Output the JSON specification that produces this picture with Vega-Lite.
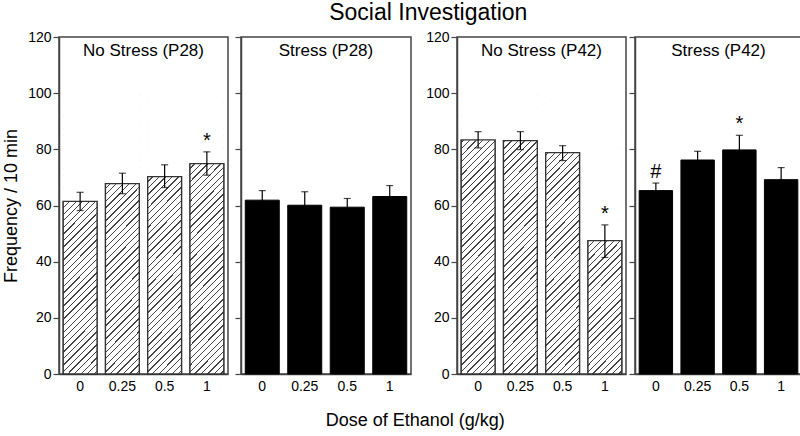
{
"$schema":"https://vega.github.io/schema/vega-lite/v6.json",
"padding":{"left":1,"top":2,"right":0,"bottom":0},
"title":{"text":"Social Investigation","fontSize":23,"fontWeight":"normal","anchor":"middle","offset":4,"dx":26},
"datasets":{
"p28ns":[
{"dose":"0","mean":61.5,"lower":58.2,"upper":64.7,"sig":""},
{"dose":"0.25","mean":67.8,"lower":64.2,"upper":71.5,"sig":""},
{"dose":"0.5","mean":70.3,"lower":66.4,"upper":74.5,"sig":""},
{"dose":"1","mean":74.9,"lower":70.8,"upper":79.1,"sig":"*"}],
"p28s":[
{"dose":"0","mean":61.9,"lower":58.5,"upper":65.3,"sig":""},
{"dose":"0.25","mean":60.1,"lower":55.3,"upper":64.9,"sig":""},
{"dose":"0.5","mean":59.4,"lower":56.3,"upper":62.5,"sig":""},
{"dose":"1","mean":63.2,"lower":59.3,"upper":67.1,"sig":""}],
"p42ns":[
{"dose":"0","mean":83.4,"lower":80.5,"upper":86.3,"sig":""},
{"dose":"0.25","mean":83.1,"lower":79.9,"upper":86.3,"sig":""},
{"dose":"0.5","mean":78.8,"lower":76.0,"upper":81.3,"sig":""},
{"dose":"1","mean":47.5,"lower":41.5,"upper":53.1,"sig":"*"}],
"p42s":[
{"dose":"0","mean":65.3,"lower":62.6,"upper":68.0,"sig":"#"},
{"dose":"0.25","mean":76.2,"lower":73.1,"upper":79.3,"sig":""},
{"dose":"0.5","mean":79.8,"lower":74.6,"upper":85.0,"sig":"*"},
{"dose":"1","mean":69.2,"lower":64.9,"upper":73.5,"sig":""}]
},
"hconcat":[
{"title":{"text":"Dose of Ethanol (g/kg)","orient":"bottom","anchor":"middle","fontSize":18,"fontWeight":"normal","offset":18,"dx":13},
"spacing":12,
"hconcat":[
{"spacing":4,"hconcat":[
{"width":169,"height":337,"data":{"name":"p28ns"},
"layer":[
{"mark":{"type":"bar","fill":"transparent","stroke":"#333","strokeWidth":1.3},
"encoding":{"x":{"field":"dose","type":"ordinal","scale":{"domain":["0","0.25","0.5","1"],"paddingInner":0.2,"paddingOuter":0.1},"axis":{"title":null,"labelAngle":0,"ticks":false,"tickSize":0,"labelPadding":5}},
"y":{"field":"mean","type":"quantitative","title":"Frequency / 10 min","scale":{"domain":[0,120],"nice":false},"axis":{"title":"Frequency / 10 min","values":[0,20,40,60,80,100,120],"tickSize":6,"labelPadding":2,"titlePadding":7,"titleFontSize":18,"titleFontWeight":"normal","titleColor":"black"}}}},
{"mark":{"type":"bar","strokeWidth":0,"fill":{"gradient":"linear","x1":0,"y1":0,"x2":0.13377,"y2":1.10488,"stops":[
{"offset":0.0083,"color":"#fff"},{"offset":0.0083,"color":"#444"},{"offset":0.0125,"color":"#444"},{"offset":0.0125,"color":"#fff"},
{"offset":0.0291,"color":"#fff"},{"offset":0.0291,"color":"#444"},{"offset":0.0333,"color":"#444"},{"offset":0.0333,"color":"#fff"},
{"offset":0.0500,"color":"#fff"},{"offset":0.0500,"color":"#444"},{"offset":0.0542,"color":"#444"},{"offset":0.0542,"color":"#fff"},
{"offset":0.0708,"color":"#fff"},{"offset":0.0708,"color":"#444"},{"offset":0.0750,"color":"#444"},{"offset":0.0750,"color":"#fff"},
{"offset":0.0916,"color":"#fff"},{"offset":0.0916,"color":"#444"},{"offset":0.0958,"color":"#444"},{"offset":0.0958,"color":"#fff"},
{"offset":0.1125,"color":"#fff"},{"offset":0.1125,"color":"#444"},{"offset":0.1167,"color":"#444"},{"offset":0.1167,"color":"#fff"},
{"offset":0.1333,"color":"#fff"},{"offset":0.1333,"color":"#444"},{"offset":0.1375,"color":"#444"},{"offset":0.1375,"color":"#fff"},
{"offset":0.1541,"color":"#fff"},{"offset":0.1541,"color":"#444"},{"offset":0.1583,"color":"#444"},{"offset":0.1583,"color":"#fff"},
{"offset":0.1750,"color":"#fff"},{"offset":0.1750,"color":"#444"},{"offset":0.1792,"color":"#444"},{"offset":0.1792,"color":"#fff"},
{"offset":0.1958,"color":"#fff"},{"offset":0.1958,"color":"#444"},{"offset":0.2000,"color":"#444"},{"offset":0.2000,"color":"#fff"},
{"offset":0.2166,"color":"#fff"},{"offset":0.2166,"color":"#444"},{"offset":0.2208,"color":"#444"},{"offset":0.2208,"color":"#fff"},
{"offset":0.2375,"color":"#fff"},{"offset":0.2375,"color":"#444"},{"offset":0.2417,"color":"#444"},{"offset":0.2417,"color":"#fff"},
{"offset":0.2583,"color":"#fff"},{"offset":0.2583,"color":"#444"},{"offset":0.2625,"color":"#444"},{"offset":0.2625,"color":"#fff"},
{"offset":0.2791,"color":"#fff"},{"offset":0.2791,"color":"#444"},{"offset":0.2833,"color":"#444"},{"offset":0.2833,"color":"#fff"},
{"offset":0.3000,"color":"#fff"},{"offset":0.3000,"color":"#444"},{"offset":0.3042,"color":"#444"},{"offset":0.3042,"color":"#fff"},
{"offset":0.3208,"color":"#fff"},{"offset":0.3208,"color":"#444"},{"offset":0.3250,"color":"#444"},{"offset":0.3250,"color":"#fff"},
{"offset":0.3416,"color":"#fff"},{"offset":0.3416,"color":"#444"},{"offset":0.3458,"color":"#444"},{"offset":0.3458,"color":"#fff"},
{"offset":0.3625,"color":"#fff"},{"offset":0.3625,"color":"#444"},{"offset":0.3667,"color":"#444"},{"offset":0.3667,"color":"#fff"},
{"offset":0.3833,"color":"#fff"},{"offset":0.3833,"color":"#444"},{"offset":0.3875,"color":"#444"},{"offset":0.3875,"color":"#fff"},
{"offset":0.4041,"color":"#fff"},{"offset":0.4041,"color":"#444"},{"offset":0.4083,"color":"#444"},{"offset":0.4083,"color":"#fff"},
{"offset":0.4250,"color":"#fff"},{"offset":0.4250,"color":"#444"},{"offset":0.4292,"color":"#444"},{"offset":0.4292,"color":"#fff"},
{"offset":0.4458,"color":"#fff"},{"offset":0.4458,"color":"#444"},{"offset":0.4500,"color":"#444"},{"offset":0.4500,"color":"#fff"},
{"offset":0.4666,"color":"#fff"},{"offset":0.4666,"color":"#444"},{"offset":0.4708,"color":"#444"},{"offset":0.4708,"color":"#fff"},
{"offset":0.4875,"color":"#fff"},{"offset":0.4875,"color":"#444"},{"offset":0.4917,"color":"#444"},{"offset":0.4917,"color":"#fff"},
{"offset":0.5083,"color":"#fff"},{"offset":0.5083,"color":"#444"},{"offset":0.5125,"color":"#444"},{"offset":0.5125,"color":"#fff"},
{"offset":0.5291,"color":"#fff"},{"offset":0.5291,"color":"#444"},{"offset":0.5333,"color":"#444"},{"offset":0.5333,"color":"#fff"},
{"offset":0.5500,"color":"#fff"},{"offset":0.5500,"color":"#444"},{"offset":0.5542,"color":"#444"},{"offset":0.5542,"color":"#fff"},
{"offset":0.5708,"color":"#fff"},{"offset":0.5708,"color":"#444"},{"offset":0.5750,"color":"#444"},{"offset":0.5750,"color":"#fff"},
{"offset":0.5916,"color":"#fff"},{"offset":0.5916,"color":"#444"},{"offset":0.5958,"color":"#444"},{"offset":0.5958,"color":"#fff"},
{"offset":0.6125,"color":"#fff"},{"offset":0.6125,"color":"#444"},{"offset":0.6167,"color":"#444"},{"offset":0.6167,"color":"#fff"},
{"offset":0.6333,"color":"#fff"},{"offset":0.6333,"color":"#444"},{"offset":0.6375,"color":"#444"},{"offset":0.6375,"color":"#fff"},
{"offset":0.6541,"color":"#fff"},{"offset":0.6541,"color":"#444"},{"offset":0.6583,"color":"#444"},{"offset":0.6583,"color":"#fff"},
{"offset":0.6750,"color":"#fff"},{"offset":0.6750,"color":"#444"},{"offset":0.6792,"color":"#444"},{"offset":0.6792,"color":"#fff"},
{"offset":0.6958,"color":"#fff"},{"offset":0.6958,"color":"#444"},{"offset":0.7000,"color":"#444"},{"offset":0.7000,"color":"#fff"},
{"offset":0.7166,"color":"#fff"},{"offset":0.7166,"color":"#444"},{"offset":0.7208,"color":"#444"},{"offset":0.7208,"color":"#fff"},
{"offset":0.7375,"color":"#fff"},{"offset":0.7375,"color":"#444"},{"offset":0.7417,"color":"#444"},{"offset":0.7417,"color":"#fff"},
{"offset":0.7583,"color":"#fff"},{"offset":0.7583,"color":"#444"},{"offset":0.7625,"color":"#444"},{"offset":0.7625,"color":"#fff"},
{"offset":0.7791,"color":"#fff"},{"offset":0.7791,"color":"#444"},{"offset":0.7833,"color":"#444"},{"offset":0.7833,"color":"#fff"},
{"offset":0.8000,"color":"#fff"},{"offset":0.8000,"color":"#444"},{"offset":0.8042,"color":"#444"},{"offset":0.8042,"color":"#fff"},
{"offset":0.8208,"color":"#fff"},{"offset":0.8208,"color":"#444"},{"offset":0.8250,"color":"#444"},{"offset":0.8250,"color":"#fff"},
{"offset":0.8416,"color":"#fff"},{"offset":0.8416,"color":"#444"},{"offset":0.8458,"color":"#444"},{"offset":0.8458,"color":"#fff"},
{"offset":0.8625,"color":"#fff"},{"offset":0.8625,"color":"#444"},{"offset":0.8667,"color":"#444"},{"offset":0.8667,"color":"#fff"},
{"offset":0.8833,"color":"#fff"},{"offset":0.8833,"color":"#444"},{"offset":0.8875,"color":"#444"},{"offset":0.8875,"color":"#fff"},
{"offset":0.9041,"color":"#fff"},{"offset":0.9041,"color":"#444"},{"offset":0.9083,"color":"#444"},{"offset":0.9083,"color":"#fff"},
{"offset":0.9250,"color":"#fff"},{"offset":0.9250,"color":"#444"},{"offset":0.9292,"color":"#444"},{"offset":0.9292,"color":"#fff"},
{"offset":0.9458,"color":"#fff"},{"offset":0.9458,"color":"#444"},{"offset":0.9500,"color":"#444"},{"offset":0.9500,"color":"#fff"},
{"offset":0.9666,"color":"#fff"},{"offset":0.9666,"color":"#444"},{"offset":0.9708,"color":"#444"},{"offset":0.9708,"color":"#fff"},
{"offset":0.9875,"color":"#fff"},{"offset":0.9875,"color":"#444"},{"offset":0.9917,"color":"#444"},{"offset":0.9917,"color":"#fff"}
]}},
"encoding":{"x":{"field":"dose","type":"ordinal"},
"y":{"datum":100,"type":"quantitative","title":"Frequency / 10 min"},"y2":{"datum":0}}},
{"mark":{"type":"bar","fill":"white","stroke":"white","strokeWidth":1},
"encoding":{"x":{"field":"dose","type":"ordinal"},
"y":{"field":"mean","type":"quantitative","title":"Frequency / 10 min"},"y2":{"datum":102}}},
{"mark":{"type":"bar","fill":"transparent","stroke":"#333","strokeWidth":1.3},
"encoding":{"x":{"field":"dose","type":"ordinal"},
"y":{"field":"mean","type":"quantitative","title":"Frequency / 10 min"}}},
{"mark":{"type":"errorbar","ticks":true,"size":7,"thickness":1.2,"color":"black"},
"encoding":{"x":{"field":"dose","type":"ordinal"},
"y":{"field":"lower","type":"quantitative","title":"Frequency / 10 min"},"y2":{"field":"upper"}}},
{"mark":{"type":"text","fontSize":20,"baseline":"middle","dy":-11,"color":"black"},
"encoding":{"x":{"field":"dose","type":"ordinal"},
"y":{"field":"upper","type":"quantitative","title":"Frequency / 10 min"},"text":{"field":"sig"}}},
{"data":{"values":[{"label":"No Stress (P28)"}]},
"mark":{"type":"text","fontSize":17,"baseline":"top","dy":6,"color":"black"},
"encoding":{"x":{"datum":"0.25","type":"ordinal","bandPosition":1.125},
"y":{"datum":120,"type":"quantitative","title":"Frequency / 10 min"},"text":{"field":"label"}}}
]},
{"width":170,"height":337,"data":{"name":"p28s"},
"layer":[
{"mark":{"type":"bar","fill":"black","stroke":"black","strokeWidth":1},
"encoding":{"x":{"field":"dose","type":"ordinal","scale":{"domain":["0","0.25","0.5","1"],"paddingInner":0.2,"paddingOuter":0.1},"axis":{"title":null,"labelAngle":0,"ticks":false,"tickSize":0,"labelPadding":5}},
"y":{"field":"mean","type":"quantitative","scale":{"domain":[0,120],"nice":false},"axis":{"title":null,"values":[0,20,40,60,80,100,120],"tickSize":6,"labels":false}}}},
{"mark":{"type":"errorbar","ticks":true,"size":7,"thickness":1.2,"color":"black"},
"encoding":{"x":{"field":"dose","type":"ordinal"},
"y":{"field":"lower","type":"quantitative"},"y2":{"field":"upper"}}},
{"mark":{"type":"text","fontSize":20,"baseline":"middle","dy":-11,"color":"black"},
"encoding":{"x":{"field":"dose","type":"ordinal"},
"y":{"field":"upper","type":"quantitative"},"text":{"field":"sig"}}},
{"data":{"values":[{"label":"Stress (P28)"}]},
"mark":{"type":"text","fontSize":17,"baseline":"top","dy":6,"color":"black"},
"encoding":{"x":{"datum":"0.25","type":"ordinal","bandPosition":1.125},
"y":{"datum":120,"type":"quantitative"},"text":{"field":"label"}}}
]}
]},
{"spacing":0,"hconcat":[
{"width":169,"height":337,"data":{"name":"p42ns"},
"layer":[
{"mark":{"type":"bar","fill":"transparent","stroke":"#333","strokeWidth":1.3},
"encoding":{"x":{"field":"dose","type":"ordinal","scale":{"domain":["0","0.25","0.5","1"],"paddingInner":0.2,"paddingOuter":0.1},"axis":{"title":null,"labelAngle":0,"ticks":false,"tickSize":0,"labelPadding":5}},
"y":{"field":"mean","type":"quantitative","scale":{"domain":[0,120],"nice":false},"axis":{"title":null,"values":[0,20,40,60,80,100,120],"tickSize":6,"labelPadding":2}}}},
{"mark":{"type":"bar","strokeWidth":0,"fill":{"gradient":"linear","x1":0,"y1":0,"x2":0.13377,"y2":1.10488,"stops":[
{"offset":0.0083,"color":"#fff"},{"offset":0.0083,"color":"#444"},{"offset":0.0125,"color":"#444"},{"offset":0.0125,"color":"#fff"},
{"offset":0.0291,"color":"#fff"},{"offset":0.0291,"color":"#444"},{"offset":0.0333,"color":"#444"},{"offset":0.0333,"color":"#fff"},
{"offset":0.0500,"color":"#fff"},{"offset":0.0500,"color":"#444"},{"offset":0.0542,"color":"#444"},{"offset":0.0542,"color":"#fff"},
{"offset":0.0708,"color":"#fff"},{"offset":0.0708,"color":"#444"},{"offset":0.0750,"color":"#444"},{"offset":0.0750,"color":"#fff"},
{"offset":0.0916,"color":"#fff"},{"offset":0.0916,"color":"#444"},{"offset":0.0958,"color":"#444"},{"offset":0.0958,"color":"#fff"},
{"offset":0.1125,"color":"#fff"},{"offset":0.1125,"color":"#444"},{"offset":0.1167,"color":"#444"},{"offset":0.1167,"color":"#fff"},
{"offset":0.1333,"color":"#fff"},{"offset":0.1333,"color":"#444"},{"offset":0.1375,"color":"#444"},{"offset":0.1375,"color":"#fff"},
{"offset":0.1541,"color":"#fff"},{"offset":0.1541,"color":"#444"},{"offset":0.1583,"color":"#444"},{"offset":0.1583,"color":"#fff"},
{"offset":0.1750,"color":"#fff"},{"offset":0.1750,"color":"#444"},{"offset":0.1792,"color":"#444"},{"offset":0.1792,"color":"#fff"},
{"offset":0.1958,"color":"#fff"},{"offset":0.1958,"color":"#444"},{"offset":0.2000,"color":"#444"},{"offset":0.2000,"color":"#fff"},
{"offset":0.2166,"color":"#fff"},{"offset":0.2166,"color":"#444"},{"offset":0.2208,"color":"#444"},{"offset":0.2208,"color":"#fff"},
{"offset":0.2375,"color":"#fff"},{"offset":0.2375,"color":"#444"},{"offset":0.2417,"color":"#444"},{"offset":0.2417,"color":"#fff"},
{"offset":0.2583,"color":"#fff"},{"offset":0.2583,"color":"#444"},{"offset":0.2625,"color":"#444"},{"offset":0.2625,"color":"#fff"},
{"offset":0.2791,"color":"#fff"},{"offset":0.2791,"color":"#444"},{"offset":0.2833,"color":"#444"},{"offset":0.2833,"color":"#fff"},
{"offset":0.3000,"color":"#fff"},{"offset":0.3000,"color":"#444"},{"offset":0.3042,"color":"#444"},{"offset":0.3042,"color":"#fff"},
{"offset":0.3208,"color":"#fff"},{"offset":0.3208,"color":"#444"},{"offset":0.3250,"color":"#444"},{"offset":0.3250,"color":"#fff"},
{"offset":0.3416,"color":"#fff"},{"offset":0.3416,"color":"#444"},{"offset":0.3458,"color":"#444"},{"offset":0.3458,"color":"#fff"},
{"offset":0.3625,"color":"#fff"},{"offset":0.3625,"color":"#444"},{"offset":0.3667,"color":"#444"},{"offset":0.3667,"color":"#fff"},
{"offset":0.3833,"color":"#fff"},{"offset":0.3833,"color":"#444"},{"offset":0.3875,"color":"#444"},{"offset":0.3875,"color":"#fff"},
{"offset":0.4041,"color":"#fff"},{"offset":0.4041,"color":"#444"},{"offset":0.4083,"color":"#444"},{"offset":0.4083,"color":"#fff"},
{"offset":0.4250,"color":"#fff"},{"offset":0.4250,"color":"#444"},{"offset":0.4292,"color":"#444"},{"offset":0.4292,"color":"#fff"},
{"offset":0.4458,"color":"#fff"},{"offset":0.4458,"color":"#444"},{"offset":0.4500,"color":"#444"},{"offset":0.4500,"color":"#fff"},
{"offset":0.4666,"color":"#fff"},{"offset":0.4666,"color":"#444"},{"offset":0.4708,"color":"#444"},{"offset":0.4708,"color":"#fff"},
{"offset":0.4875,"color":"#fff"},{"offset":0.4875,"color":"#444"},{"offset":0.4917,"color":"#444"},{"offset":0.4917,"color":"#fff"},
{"offset":0.5083,"color":"#fff"},{"offset":0.5083,"color":"#444"},{"offset":0.5125,"color":"#444"},{"offset":0.5125,"color":"#fff"},
{"offset":0.5291,"color":"#fff"},{"offset":0.5291,"color":"#444"},{"offset":0.5333,"color":"#444"},{"offset":0.5333,"color":"#fff"},
{"offset":0.5500,"color":"#fff"},{"offset":0.5500,"color":"#444"},{"offset":0.5542,"color":"#444"},{"offset":0.5542,"color":"#fff"},
{"offset":0.5708,"color":"#fff"},{"offset":0.5708,"color":"#444"},{"offset":0.5750,"color":"#444"},{"offset":0.5750,"color":"#fff"},
{"offset":0.5916,"color":"#fff"},{"offset":0.5916,"color":"#444"},{"offset":0.5958,"color":"#444"},{"offset":0.5958,"color":"#fff"},
{"offset":0.6125,"color":"#fff"},{"offset":0.6125,"color":"#444"},{"offset":0.6167,"color":"#444"},{"offset":0.6167,"color":"#fff"},
{"offset":0.6333,"color":"#fff"},{"offset":0.6333,"color":"#444"},{"offset":0.6375,"color":"#444"},{"offset":0.6375,"color":"#fff"},
{"offset":0.6541,"color":"#fff"},{"offset":0.6541,"color":"#444"},{"offset":0.6583,"color":"#444"},{"offset":0.6583,"color":"#fff"},
{"offset":0.6750,"color":"#fff"},{"offset":0.6750,"color":"#444"},{"offset":0.6792,"color":"#444"},{"offset":0.6792,"color":"#fff"},
{"offset":0.6958,"color":"#fff"},{"offset":0.6958,"color":"#444"},{"offset":0.7000,"color":"#444"},{"offset":0.7000,"color":"#fff"},
{"offset":0.7166,"color":"#fff"},{"offset":0.7166,"color":"#444"},{"offset":0.7208,"color":"#444"},{"offset":0.7208,"color":"#fff"},
{"offset":0.7375,"color":"#fff"},{"offset":0.7375,"color":"#444"},{"offset":0.7417,"color":"#444"},{"offset":0.7417,"color":"#fff"},
{"offset":0.7583,"color":"#fff"},{"offset":0.7583,"color":"#444"},{"offset":0.7625,"color":"#444"},{"offset":0.7625,"color":"#fff"},
{"offset":0.7791,"color":"#fff"},{"offset":0.7791,"color":"#444"},{"offset":0.7833,"color":"#444"},{"offset":0.7833,"color":"#fff"},
{"offset":0.8000,"color":"#fff"},{"offset":0.8000,"color":"#444"},{"offset":0.8042,"color":"#444"},{"offset":0.8042,"color":"#fff"},
{"offset":0.8208,"color":"#fff"},{"offset":0.8208,"color":"#444"},{"offset":0.8250,"color":"#444"},{"offset":0.8250,"color":"#fff"},
{"offset":0.8416,"color":"#fff"},{"offset":0.8416,"color":"#444"},{"offset":0.8458,"color":"#444"},{"offset":0.8458,"color":"#fff"},
{"offset":0.8625,"color":"#fff"},{"offset":0.8625,"color":"#444"},{"offset":0.8667,"color":"#444"},{"offset":0.8667,"color":"#fff"},
{"offset":0.8833,"color":"#fff"},{"offset":0.8833,"color":"#444"},{"offset":0.8875,"color":"#444"},{"offset":0.8875,"color":"#fff"},
{"offset":0.9041,"color":"#fff"},{"offset":0.9041,"color":"#444"},{"offset":0.9083,"color":"#444"},{"offset":0.9083,"color":"#fff"},
{"offset":0.9250,"color":"#fff"},{"offset":0.9250,"color":"#444"},{"offset":0.9292,"color":"#444"},{"offset":0.9292,"color":"#fff"},
{"offset":0.9458,"color":"#fff"},{"offset":0.9458,"color":"#444"},{"offset":0.9500,"color":"#444"},{"offset":0.9500,"color":"#fff"},
{"offset":0.9666,"color":"#fff"},{"offset":0.9666,"color":"#444"},{"offset":0.9708,"color":"#444"},{"offset":0.9708,"color":"#fff"},
{"offset":0.9875,"color":"#fff"},{"offset":0.9875,"color":"#444"},{"offset":0.9917,"color":"#444"},{"offset":0.9917,"color":"#fff"}
]}},
"encoding":{"x":{"field":"dose","type":"ordinal"},
"y":{"datum":100,"type":"quantitative"},"y2":{"datum":0}}},
{"mark":{"type":"bar","fill":"white","stroke":"white","strokeWidth":1},
"encoding":{"x":{"field":"dose","type":"ordinal"},
"y":{"field":"mean","type":"quantitative"},"y2":{"datum":102}}},
{"mark":{"type":"bar","fill":"transparent","stroke":"#333","strokeWidth":1.3},
"encoding":{"x":{"field":"dose","type":"ordinal"},
"y":{"field":"mean","type":"quantitative"}}},
{"mark":{"type":"errorbar","ticks":true,"size":7,"thickness":1.2,"color":"black"},
"encoding":{"x":{"field":"dose","type":"ordinal"},
"y":{"field":"lower","type":"quantitative"},"y2":{"field":"upper"}}},
{"mark":{"type":"text","fontSize":20,"baseline":"middle","dy":-11,"color":"black"},
"encoding":{"x":{"field":"dose","type":"ordinal"},
"y":{"field":"upper","type":"quantitative"},"text":{"field":"sig"}}},
{"data":{"values":[{"label":"No Stress (P42)"}]},
"mark":{"type":"text","fontSize":17,"baseline":"top","dy":6,"color":"black"},
"encoding":{"x":{"datum":"0.25","type":"ordinal","bandPosition":1.125},
"y":{"datum":120,"type":"quantitative"},"text":{"field":"label"}}}
]},
{"width":167,"height":337,"data":{"name":"p42s"},
"layer":[
{"mark":{"type":"bar","fill":"black","stroke":"black","strokeWidth":1},
"encoding":{"x":{"field":"dose","type":"ordinal","scale":{"domain":["0","0.25","0.5","1"],"paddingInner":0.2,"paddingOuter":0.1},"axis":{"title":null,"labelAngle":0,"ticks":false,"tickSize":0,"labelPadding":5}},
"y":{"field":"mean","type":"quantitative","scale":{"domain":[0,120],"nice":false},"axis":{"title":null,"values":[0,20,40,60,80,100,120],"tickSize":6,"labels":false}}}},
{"mark":{"type":"errorbar","ticks":true,"size":7,"thickness":1.2,"color":"black"},
"encoding":{"x":{"field":"dose","type":"ordinal"},
"y":{"field":"lower","type":"quantitative"},"y2":{"field":"upper"}}},
{"mark":{"type":"text","fontSize":20,"baseline":"middle","dy":-11,"color":"black"},
"encoding":{"x":{"field":"dose","type":"ordinal"},
"y":{"field":"upper","type":"quantitative"},"text":{"field":"sig"}}},
{"data":{"values":[{"label":"Stress (P42)"}]},
"mark":{"type":"text","fontSize":17,"baseline":"top","dy":6,"color":"black"},
"encoding":{"x":{"datum":"0.25","type":"ordinal","bandPosition":1.125},
"y":{"datum":120,"type":"quantitative"},"text":{"field":"label"}}}
]}
]}
]}
],
"config":{
"font":"Liberation Sans",
"view":{"stroke":"#444","strokeWidth":1.5},
"axis":{"grid":false,"domainColor":"#444","domainWidth":1.5,"tickColor":"#444","tickWidth":1.2,"labelFontSize":14,"labelColor":"black"},
"title":{"color":"black"}
}
}
